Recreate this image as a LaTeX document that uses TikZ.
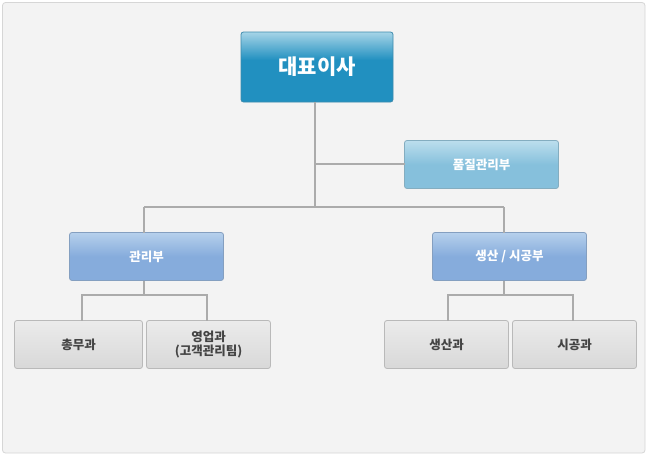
\documentclass[tikz,border=0pt]{standalone}
\usepackage{fontspec}
\newfontfamily\kr{Noto Sans CJK KR}
\definecolor{panel}{HTML}{F3F3F3}
\definecolor{panelline}{HTML}{D6D6D6}
\definecolor{conn}{HTML}{ABABAB}
\definecolor{ceoA}{HTML}{2190C0}
\definecolor{ceoB}{HTML}{A6D4E7}
\definecolor{qA}{HTML}{86C0DC}
\definecolor{qB}{HTML}{BCDEED}
\definecolor{dA}{HTML}{86ACDC}
\definecolor{dB}{HTML}{B6D0EC}
\definecolor{gA}{HTML}{D8D8D8}
\definecolor{gB}{HTML}{EBEBEB}
\definecolor{gtext}{HTML}{444444}
\pgfdeclareverticalshading{ceoshade}{100bp}{color(0bp)=(ceoA); color(25bp)=(ceoA); color(55bp)=(ceoA); color(75bp)=(ceoB); color(100bp)=(ceoB)}
\pgfdeclareverticalshading{qshade}{100bp}{color(0bp)=(qA); color(25bp)=(qA); color(50bp)=(qA); color(75bp)=(qB); color(100bp)=(qB)}
\pgfdeclareverticalshading{dshade}{100bp}{color(0bp)=(dA); color(25bp)=(dA); color(50bp)=(dA); color(75bp)=(dB); color(100bp)=(dB)}
\pgfdeclareverticalshading{gshade}{100bp}{color(0bp)=(gA); color(25bp)=(gA); color(75bp)=(gB); color(100bp)=(gB)}
\tikzset{
  box/.style={draw=#1, rounded corners=2.5pt, line width=0.8pt, inner sep=0pt, outer sep=0pt, anchor=north west, font=\kr\bfseries},
  ceobox/.style={box=ceoA!70!gray, shading=ceoshade, text=white, font=\kr\bfseries\fontsize{21}{23}\selectfont},
  qbox/.style={box=qA!70!gray, shading=qshade, text=white, font=\kr\bfseries\fontsize{12.5}{15}\selectfont},
  dbox/.style={box=dA!70!gray, shading=dshade, text=white, font=\kr\bfseries\fontsize{12.5}{15}\selectfont},
  gbox/.style={box=gray!55, shading=gshade, text=gtext, font=\kr\bfseries\fontsize{12.5}{14}\selectfont, align=center},
  conn/.style={draw=conn, line width=1.6pt}
}
\begin{document}
\begin{tikzpicture}[x=1pt,y=-1pt]
\useasboundingbox (0,0) rectangle (654,464);
\fill[white] (0,0) rectangle (654,464);
\draw[panelline, fill=panel, rounded corners=3pt, line width=0.8pt] (2.5,2.5) rectangle (645,453);
% nodes
\node[ceobox, minimum width=152pt, minimum height=70pt] (ceo) at (241,32) {대표이사};
\node[qbox, minimum width=154pt, minimum height=48pt] (qm) at (404.5,140.5) {품질관리부};
\node[dbox, minimum width=154pt, minimum height=48pt] (adm) at (69.5,232.5) {관리부};
\node[dbox, minimum width=154pt, minimum height=48pt] (prod) at (432.5,232.5) {생산 / 시공부};
\node[gbox, minimum width=128pt, minimum height=48pt] (ga) at (14.5,320.5) {총무과};
\node[gbox, minimum width=124pt, minimum height=48pt] (sales) at (146.5,320.5) {영업과\\(고객관리팀)};
\node[gbox, minimum width=124pt, minimum height=48pt] (pd) at (384.5,320.5) {생산과};
\node[gbox, minimum width=124pt, minimum height=48pt] (cs) at (512.5,320.5) {시공과};
% junction points
\coordinate (j0) at (315,164);
\coordinate (j1) at (315,207);
\coordinate (jl) at (144,207);
\coordinate (jr) at (504,207);
\coordinate (kl) at (144,295);
\coordinate (kr) at (504,295);
\coordinate (kla) at (82,295);
\coordinate (klb) at (207,295);
\coordinate (kra) at (448,295);
\coordinate (krb) at (573,295);
% connectors
\draw[conn] (ceo.south -| j1) -- (j1);
\draw[conn] (j0) -- (qm.west |- j0);
\draw[conn] (jl) -- (jr);
\draw[conn] (jl) -- (adm.north -| jl);
\draw[conn] (jr) -- (prod.north -| jr);
\draw[conn] (adm.south -| kl) -- (kl);
\draw[conn] (prod.south -| kr) -- (kr);
\draw[conn] (ga.north -| kla) -- (kla) -- (klb) -- (sales.north -| klb);
\draw[conn] (pd.north -| kra) -- (kra) -- (krb) -- (cs.north -| krb);
\end{tikzpicture}
\end{document}
